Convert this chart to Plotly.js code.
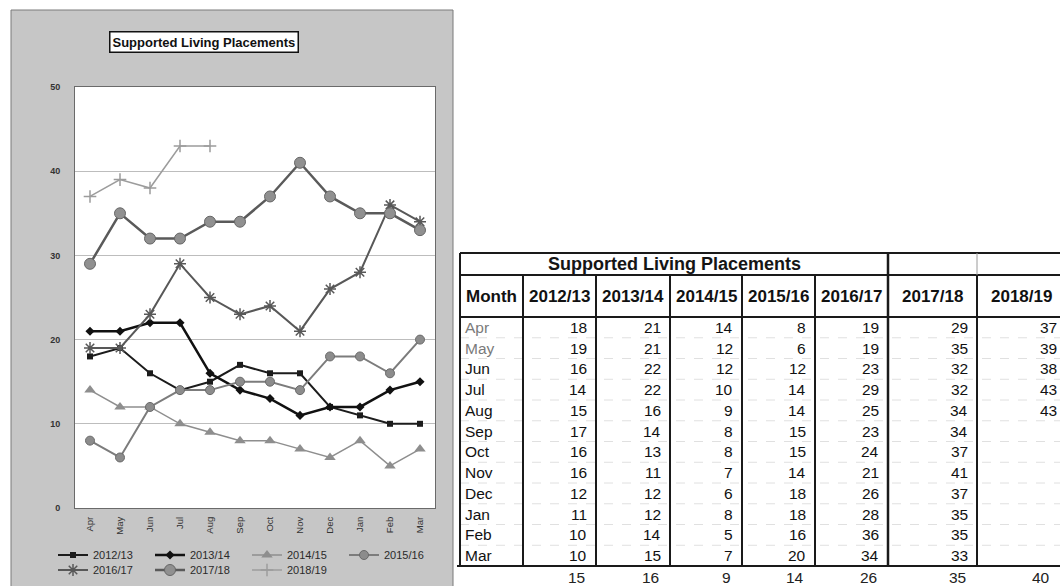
<!DOCTYPE html>
<html>
<head>
<meta charset="utf-8">
<script src="https://cdn.plot.ly/plotly-3.0.1.min.js"></script>
<style>
  html, body { margin: 0; padding: 0; background: #ffffff; }
  #chart { width: 1060px; height: 586px; }
</style>
</head>
<body>
<div id="chart"></div>
<script>
// Monthly supported living placements, April to March, per financial year
const months = ['Apr', 'May', 'Jun', 'Jul', 'Aug', 'Sep', 'Oct', 'Nov', 'Dec', 'Jan', 'Feb', 'Mar'];
const years = ['2012/13', '2013/14', '2014/15', '2015/16', '2016/17', '2017/18', '2018/19'];

const fy2012 = [18, 19, 16, 14, 15, 17, 16, 16, 12, 11, 10, 10];
const fy2013 = [21, 21, 22, 22, 16, 14, 13, 11, 12, 12, 14, 15];
const fy2014 = [14, 12, 12, 10, 9, 8, 8, 7, 6, 8, 5, 7];
const fy2015 = [8, 6, 12, 14, 14, 15, 15, 14, 18, 18, 16, 20];
const fy2016 = [19, 19, 23, 29, 25, 23, 24, 21, 26, 28, 36, 34];
const fy2017 = [29, 35, 32, 32, 34, 34, 37, 41, 37, 35, 35, 33];
const fy2018 = [37, 39, 38, 43, 43];

// Yearly averages shown under the table
const averages = [15, 16, 9, 14, 26, 35, 40];

const seriesValues = [fy2012, fy2013, fy2014, fy2015, fy2016, fy2017, fy2018];

const FONT = 'Liberation Sans, Arial, sans-serif';
const W = 1060, H = 586;

// ---- line styles for each year ----
const styles = [
  { line: { color: '#1c1c1c', width: 2 },   marker: { symbol: 'square', size: 6, color: '#1c1c1c' } },
  { line: { color: '#111111', width: 2.5 }, marker: { symbol: 'diamond', size: 7, color: '#111111' } },
  { line: { color: '#8e8e8e', width: 1.5 }, marker: { symbol: 'triangle-up', size: 10, color: '#8e8e8e' } },
  { line: { color: '#7c7c7c', width: 2 },   marker: { symbol: 'circle', size: 9, color: '#8c8c8c', line: { color: '#6a6a6a', width: 1 } } },
  { line: { color: '#585858', width: 2 },   marker: { symbol: 'asterisk-open', size: 10, line: { color: '#585858', width: 1.5 } } },
  { line: { color: '#5a5a5a', width: 2.5 }, marker: { symbol: 'circle', size: 11, color: '#909090', line: { color: '#666666', width: 1 } } },
  { line: { color: '#9c9c9c', width: 1.5 }, marker: { symbol: 'cross-thin-open', size: 9, line: { color: '#8a8a8a', width: 1.5 } } }
];

// first four years go in the upper legend row, the rest in the lower row
const traces = years.map((yr, i) => ({
  type: 'scatter',
  mode: 'lines+markers',
  name: yr,
  x: months.slice(0, seriesValues[i].length),
  y: seriesValues[i],
  line: styles[i].line,
  marker: styles[i].marker,
  xaxis: 'x',
  yaxis: 'y',
  legend: i < 4 ? 'legend' : 'legend2',
  hoverinfo: 'skip'
}));

// ---- chart area geometry (pixels in the page) ----
const plotLeft = 75, plotRight = 435, plotTop = 87, plotBottom = 508;

// ---- table geometry (pixel units on the table axes) ----
const colEdges = [460, 523, 596, 670, 742, 815, 888, 977, 1066];
const tableTop = 253, titleRowBottom = 275, headBottom = 317;
const rowH = 20.75;
const tableBottom = headBottom + rowH * months.length;
const avgRowY = tableBottom + 11.5;

const annotations = [];
const shapes = [];

// gray chart frame and white plot area
shapes.push({
  type: 'rect', xref: 'paper', yref: 'paper', layer: 'below',
  x0: 11 / W, x1: 453 / W, y0: -0.01, y1: 1 - 10 / H,
  fillcolor: '#c6c6c6', line: { color: '#7a7a7a', width: 1 }
});
shapes.push({
  type: 'rect', xref: 'x domain', yref: 'y domain', layer: 'below',
  x0: 0, x1: 1, y0: 0, y1: 1,
  fillcolor: '#ffffff', line: { width: 0 }
});

// chart title in a box
annotations.push({
  xref: 'paper', yref: 'paper', x: 204 / W, y: 1 - 41.5 / H,
  xanchor: 'center', yanchor: 'middle', showarrow: false,
  text: '<b>Supported Living Placements</b>',
  font: { family: FONT, size: 13, color: '#111' },
  bgcolor: '#ffffff', bordercolor: '#111111', borderwidth: 1.5, borderpad: 2
});

// table grid lines
const tl = (x0, y0, x1, y1, color, width, dash) => shapes.push({
  type: 'line', xref: 'x2', yref: 'y2', x0, y0, x1, y1,
  line: { color, width, dash: dash || 'solid' }
});
const tRight = colEdges[colEdges.length - 1];
for (let k = 1; k < months.length; k++) {
  const y = headBottom + rowH * k;
  tl(colEdges[0], y, tRight, y, '#e0e0e0', 1, 'dash');
}
tl(colEdges[0], tableTop, tRight, tableTop, '#1a1a1a', 2);
tl(colEdges[0], titleRowBottom, tRight, titleRowBottom, '#1a1a1a', 2);
tl(colEdges[0], headBottom, tRight, headBottom, '#1a1a1a', 2);
tl(colEdges[0] - 3, tableBottom, tRight, tableBottom, '#1a1a1a', 2);
tl(colEdges[0], tableTop, colEdges[0], tableBottom, '#1a1a1a', 2);
tl(colEdges[6], tableTop, colEdges[6], tableBottom, '#1a1a1a', 2.5);
tl(colEdges[7], tableTop, colEdges[7], titleRowBottom, '#9a9a9a', 1);
tl(colEdges[7], titleRowBottom, colEdges[7], tableBottom, '#1a1a1a', 2);
for (let c = 1; c <= 5; c++) {
  tl(colEdges[c], titleRowBottom, colEdges[c], tableBottom, '#1a1a1a', 2);
}

// table header
annotations.push({
  xref: 'x2', yref: 'y2', x: (colEdges[0] + colEdges[6]) / 2, y: (tableTop + titleRowBottom) / 2,
  xanchor: 'center', yanchor: 'middle', showarrow: false,
  text: '<b>Supported Living Placements</b>',
  font: { family: FONT, size: 18, color: '#151515' }
});
const headY = (titleRowBottom + headBottom) / 2;
annotations.push({
  xref: 'x2', yref: 'y2', x: colEdges[0] + 4, y: headY,
  xanchor: 'left', yanchor: 'middle', showarrow: false,
  text: '<b>Month</b>', font: { family: FONT, size: 17, color: '#111' }
});
years.forEach((yr, j) => {
  annotations.push({
    xref: 'x2', yref: 'y2', x: (colEdges[j + 1] + colEdges[j + 2]) / 2, y: headY,
    xanchor: 'center', yanchor: 'middle', showarrow: false,
    text: '<b>' + yr + '</b>', font: { family: FONT, size: 17, color: '#111' }
  });
});

// month names and values
months.forEach((m, i) => {
  const y = headBottom + rowH * (i + 0.5);
  annotations.push({
    xref: 'x2', yref: 'y2', x: colEdges[0] + 3, y,
    xanchor: 'left', yanchor: 'middle', showarrow: false,
    text: m, font: { family: FONT, size: 15.5, color: i < 2 ? '#7a7a7a' : '#111' }
  });
  seriesValues.forEach((vals, j) => {
    if (i >= vals.length) return;
    annotations.push({
      xref: 'x2', yref: 'y2', x: colEdges[j + 2] - 7, y,
      xanchor: 'right', yanchor: 'middle', showarrow: false,
      text: String(vals[i]), font: { family: FONT, size: 15.5, color: '#111' }
    });
  });
});

// averages row
averages.forEach((v, j) => {
  annotations.push({
    xref: 'x2', yref: 'y2', x: colEdges[j + 2] - (j === 6 ? 14 : 9), y: avgRowY,
    xanchor: 'right', yanchor: 'middle', showarrow: false,
    text: String(v), font: { family: FONT, size: 15.5, color: '#222' }
  });
});

const legendBase = {
  orientation: 'h',
  x: 53 / W, xanchor: 'left',
  yanchor: 'middle',
  entrywidth: 52, entrywidthmode: 'pixels',
  font: { family: FONT, size: 11, color: '#2a2a2a' },
  bgcolor: 'rgba(0,0,0,0)',
  borderwidth: 0,
  itemwidth: 30
};

const layout = {
  width: W, height: H,
  margin: { l: 0, r: 0, t: 0, b: 0 },
  paper_bgcolor: '#ffffff',
  plot_bgcolor: 'rgba(0,0,0,0)',
  font: { family: FONT, color: '#222' },
  showlegend: true,
  legend: Object.assign({}, legendBase, { y: 1 - 555 / H }),
  legend2: Object.assign({}, legendBase, { y: 1 - 570 / H }),
  xaxis: {
    domain: [plotLeft / W, plotRight / W],
    type: 'category',
    categoryorder: 'array', categoryarray: months,
    range: [-0.5, 11.5],
    showgrid: false, zeroline: false,
    showline: true, mirror: true, linecolor: '#6a6a6a', linewidth: 1,
    ticks: '', tickangle: -90,
    ticklabelstandoff: 4,
    tickfont: { family: FONT, size: 9.5, color: '#333' },
    fixedrange: true, anchor: 'y'
  },
  yaxis: {
    domain: [1 - plotBottom / H, 1 - plotTop / H],
    range: [0, 50], dtick: 10, tick0: 0,
    showgrid: true, gridcolor: '#bdbdbd', gridwidth: 1,
    zeroline: false,
    showline: true, mirror: true, linecolor: '#6a6a6a', linewidth: 1,
    ticks: '', ticklabelstandoff: 12,
    tickfont: { family: FONT, size: 9, color: '#333', weight: 'bold' },
    fixedrange: true, anchor: 'x'
  },
  xaxis2: { domain: [0, 1], range: [0, W], visible: false, fixedrange: true, anchor: 'y2' },
  yaxis2: { domain: [0, 1], range: [H, 0], visible: false, fixedrange: true, anchor: 'x2' },
  shapes, annotations
};

// an empty trace keeps the table axes alive
traces.push({
  type: 'scatter', mode: 'markers', x: [], y: [], xaxis: 'x2', yaxis: 'y2',
  showlegend: false, hoverinfo: 'skip'
});

Plotly.newPlot('chart', traces, layout, { displayModeBar: false, staticPlot: true });
</script>
</body>
</html>
